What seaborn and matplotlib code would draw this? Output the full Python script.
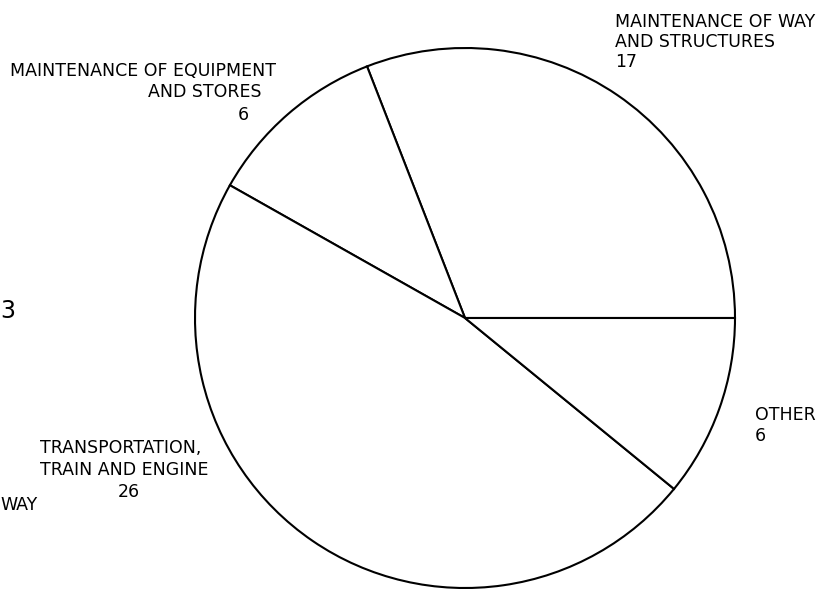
import matplotlib
matplotlib.use("Agg")
import matplotlib.pyplot as plt
import seaborn as sns

# slices, counter-clockwise from 3 o'clock
categories = ["MAINTENANCE OF WAY AND STRUCTURES",
              "MAINTENANCE OF EQUIPMENT AND STORES",
              "TRANSPORTATION, TRAIN AND ENGINE",
              "OTHER"]
values = [17, 6, 26, 6]

# label lines (text, left px, baseline px, ha)
label_lines = [
    ("MAINTENANCE OF WAY", 615, 27, "left"),
    ("AND STRUCTURES", 615, 47, "left"),
    (str(values[0]), 615, 67, "left"),
    ("MAINTENANCE OF EQUIPMENT", 10, 76, "left"),
    ("AND STORES", 148, 97, "left"),
    (str(values[1]), 238, 120, "left"),
    ("TRANSPORTATION,", 40, 453, "left"),
    ("TRAIN AND ENGINE", 40, 475, "left"),
    (str(values[2]), 129, 497, "center"),
    ("OTHER", 755, 420, "left"),
    (str(values[3]), 755, 441, "left"),
]

sns.set_style("white")
plt.rcParams["font.family"] = ["DejaVu Sans"]
plt.rcParams["text.color"] = "black"

W, H = 831, 592
CX, CY, R = 465, 318, 270

fig = plt.figure(figsize=(W / 100, H / 100), dpi=100)
ax = fig.add_axes([0, 0, 1, 1])

ax.pie(values, startangle=0, counterclock=True, radius=1,
       colors=["white"] * len(values),
       wedgeprops={"edgecolor": "black", "linewidth": 1.5})

ax.set_xlim(-CX / R, (W - CX) / R)
ax.set_ylim(-(H - CY) / R, CY / R)
ax.set_aspect("equal")
ax.axis("off")


def px(x, y):
    return (x - CX) / R, (CY - y) / R


for txt, x, y, ha in label_lines:
    ax.text(*px(x, y), txt, ha=ha, va="baseline", fontsize=12.5, color="black")

# scraps along the left edge of the scan
ax.text(*px(0, 318), "3", ha="left", va="baseline", fontsize=17, color="black")
ax.text(*px(0, 510), "WAY", ha="left", va="baseline", fontsize=12.5, color="black")

fig.savefig("out.png", dpi=100, facecolor="white")
